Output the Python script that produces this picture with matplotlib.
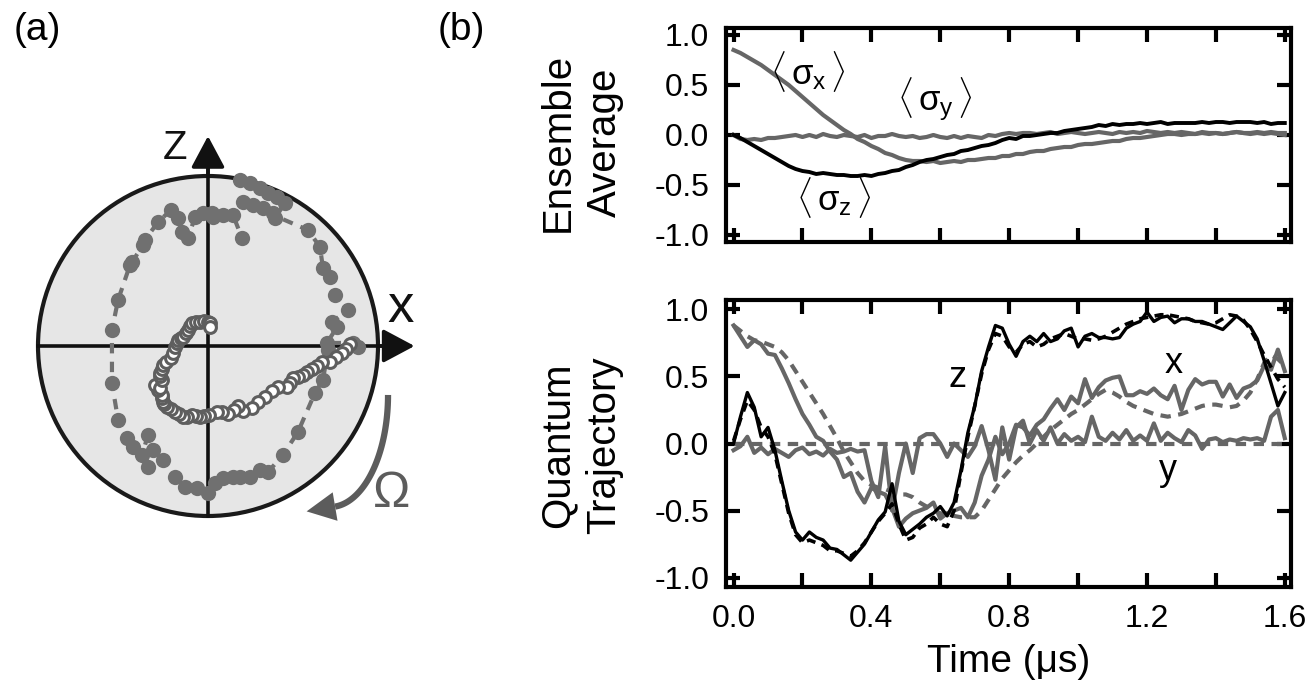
import numpy as np
import matplotlib
matplotlib.use("Agg")
import matplotlib.pyplot as plt
from matplotlib.patches import Circle, Polygon

plt.rcParams['font.family'] = ['Liberation Sans', 'DejaVu Sans']
plt.rcParams['mathtext.fontset'] = 'custom'
plt.rcParams['mathtext.rm'] = 'Liberation Sans'
plt.rcParams['mathtext.it'] = 'Liberation Sans:italic'

GRAY = '#666666'
DOT = '#707070'

# ---- (a) Bloch-sphere cut, x-z plane ----
# filled dots: ensemble evolution (x, z)
ens_x = [0.188, 0.247, 0.306, 0.353, 0.406, 0.453, 0.394, 0.382, 0.324, 0.265, 0.206,
         0.588, 0.659, 0.676, 0.718, 0.747, 0.824, 0.729, 0.759, 0.700, 0.853, 0.882,
         0.706, 0.676, 0.629, 0.529, 0.441, 0.353, 0.306, 0.247, 0.188, 0.147, 0.088,
         0.041, 0.000, -0.065, -0.135, -0.194, -0.265, -0.353, -0.324, -0.353, -0.388,
         -0.441, -0.476, -0.529, -0.565, -0.565, -0.529, -0.459, -0.447, -0.382, -0.371,
         -0.294, -0.218, -0.176, -0.153, -0.118, -0.076, -0.029, 0.024, 0.029, 0.088,
         0.147, 0.200]
ens_z = [0.976, 0.959, 0.929, 0.900, 0.876, 0.841, 0.753, 0.782, 0.812, 0.829, 0.847,
         0.682, 0.582, 0.459, 0.406, 0.300, 0.212, 0.141, 0.112, 0.018, 0.018, -0.006,
         -0.024, -0.200, -0.276, -0.506, -0.641, -0.741, -0.729, -0.771, -0.771, -0.771,
         -0.776, -0.806, -0.865, -0.835, -0.829, -0.771, -0.671, -0.712, -0.612, -0.524,
         -0.641, -0.594, -0.541, -0.435, -0.218, 0.094, 0.271, 0.476, 0.494, 0.594,
         0.624, 0.729, 0.800, 0.753, 0.671, 0.635, 0.759, 0.782, 0.782, 0.759, 0.771,
         0.771, 0.635]

# open dots: single quantum trajectory (x, z)
traj_x = [0.835, 0.812, 0.788, 0.753, 0.718, 0.671, 0.641, 0.612, 0.582, 0.559, 0.529,
          0.500, 0.482, 0.465, 0.412, 0.376, 0.335, 0.294, 0.259, 0.206, 0.176, 0.153,
          0.118, 0.082, 0.053, 0.006, -0.024, -0.047, -0.071, -0.094, -0.124, -0.147,
          -0.171, -0.194, -0.218, -0.241, -0.259, -0.265, -0.271, -0.271, -0.294, -0.312,
          -0.282, -0.271, -0.282, -0.282, -0.271, -0.265, -0.247, -0.218, -0.206, -0.194,
          -0.182, -0.176, -0.159, -0.147, -0.129, -0.118, -0.106, -0.094, -0.071, -0.047,
          -0.024, 0.000, 0.012, 0.012]
traj_z = [0.012, -0.018, -0.041, -0.065, -0.094, -0.094, -0.118, -0.135, -0.153, -0.171,
          -0.182, -0.188, -0.218, -0.241, -0.241, -0.265, -0.300, -0.329, -0.365, -0.382,
          -0.353, -0.376, -0.400, -0.388, -0.388, -0.406, -0.412, -0.418, -0.412, -0.406,
          -0.418, -0.418, -0.400, -0.388, -0.371, -0.359, -0.341, -0.329, -0.306, -0.288,
          -0.259, -0.229, -0.247, -0.200, -0.176, -0.159, -0.135, -0.112, -0.094, -0.071,
          -0.041, -0.006, 0.018, 0.035, 0.047, 0.053, 0.076, 0.094, 0.118, 0.135, 0.141,
          0.141, 0.147, 0.141, 0.135, 0.112]

# ---- (b) time traces ----
t = np.round(np.arange(81) * 0.02, 2)

avg_sx = [0.85, 0.82, 0.78, 0.74, 0.70, 0.65, 0.60, 0.55, 0.50, 0.44, 0.38, 0.32, 0.26, 0.20,
          0.15, 0.10, 0.05, 0.01, -0.04, -0.07, -0.11, -0.14, -0.18, -0.20, -0.23, -0.25,
          -0.26, -0.26, -0.27, -0.26, -0.28, -0.27, -0.26, -0.27, -0.25, -0.25, -0.24, -0.23,
          -0.23, -0.21, -0.21, -0.19, -0.19, -0.17, -0.16, -0.16, -0.14, -0.13, -0.12, -0.12,
          -0.10, -0.09, -0.09, -0.08, -0.07, -0.06, -0.06, -0.04, -0.03, -0.03, -0.02, -0.01,
          0.00, 0.01, 0.01, 0.00, 0.01, 0.01, 0.02, 0.01, 0.02, 0.01, 0.02, 0.03, 0.02, 0.02,
          0.03, 0.02, 0.03, 0.02, 0.02]
avg_sy = [0.00, -0.04, -0.05, -0.04, -0.05, -0.03, -0.03, -0.02, -0.01, 0.00, -0.02, 0.00,
          -0.02, 0.01, -0.01, -0.02, 0.00, -0.01, -0.02, 0.00, -0.03, -0.01, -0.01, 0.01,
          -0.01, -0.02, -0.01, -0.03, -0.02, 0.00, -0.02, -0.03, -0.01, -0.03, -0.01, -0.02,
          -0.03, 0.00, -0.01, 0.01, 0.02, 0.01, 0.02, 0.02, 0.01, 0.02, 0.03, 0.01, 0.02,
          0.03, 0.02, 0.01, 0.02, 0.03, 0.02, 0.01, 0.03, 0.02, 0.03, 0.02, 0.04, 0.03, 0.02,
          0.03, 0.02, 0.03, 0.02, 0.01, 0.03, 0.02, 0.02, 0.01, 0.02, 0.03, 0.02, 0.01, 0.02,
          0.01, 0.02, 0.01, 0.00]
avg_sz = [0.00, -0.03, -0.07, -0.11, -0.15, -0.19, -0.23, -0.27, -0.31, -0.34, -0.36, -0.37,
          -0.39, -0.38, -0.39, -0.40, -0.40, -0.41, -0.41, -0.40, -0.41, -0.39, -0.38, -0.36,
          -0.35, -0.32, -0.30, -0.27, -0.25, -0.24, -0.22, -0.20, -0.19, -0.16, -0.15, -0.13,
          -0.11, -0.10, -0.08, -0.05, -0.03, -0.04, -0.01, -0.01, 0.00, 0.01, 0.02, 0.02,
          0.04, 0.05, 0.06, 0.07, 0.08, 0.10, 0.09, 0.11, 0.10, 0.11, 0.11, 0.12, 0.11, 0.12,
          0.13, 0.11, 0.12, 0.12, 0.12, 0.12, 0.13, 0.12, 0.13, 0.13, 0.12, 0.13, 0.13, 0.13,
          0.12, 0.13, 0.11, 0.12, 0.12]

# measured trajectory (solid) and reconstructed estimate (dashed)
traj_zt = [0.00, 0.20, 0.38, 0.27, 0.05, 0.12, -0.05, -0.28, -0.50, -0.66, -0.72, -0.66,
           -0.70, -0.72, -0.78, -0.79, -0.83, -0.87, -0.81, -0.75, -0.66, -0.57, -0.51, -0.30,
           -0.58, -0.68, -0.64, -0.60, -0.55, -0.52, -0.47, -0.54, -0.44, -0.20, 0.08, 0.28,
           0.54, 0.72, 0.88, 0.86, 0.74, 0.65, 0.76, 0.80, 0.76, 0.82, 0.76, 0.78, 0.84, 0.86,
           0.72, 0.80, 0.82, 0.79, 0.79, 0.78, 0.79, 0.86, 0.89, 0.91, 0.98, 0.91, 0.94, 0.95,
           0.90, 0.93, 0.93, 0.91, 0.91, 0.89, 0.87, 0.85, 0.90, 0.95, 0.91, 0.87, 0.78, 0.62,
           0.45, 0.28, 0.38]
est_zt = [0.02, 0.18, 0.32, 0.25, 0.12, 0.05, -0.08, -0.30, -0.52, -0.68, -0.74, -0.72,
          -0.74, -0.76, -0.80, -0.80, -0.82, -0.84, -0.80, -0.74, -0.66, -0.58, -0.52, -0.45,
          -0.60, -0.72, -0.70, -0.63, -0.60, -0.55, -0.60, -0.62, -0.50, -0.22, 0.05, 0.28,
          0.52, 0.70, 0.82, 0.80, 0.72, 0.68, 0.74, 0.76, 0.72, 0.74, 0.78, 0.80, 0.82, 0.80,
          0.78, 0.78, 0.77, 0.78, 0.80, 0.83, 0.86, 0.89, 0.91, 0.93, 0.94, 0.95, 0.96, 0.96,
          0.95, 0.94, 0.93, 0.91, 0.90, 0.89, 0.90, 0.93, 0.96, 0.95, 0.92, 0.85, 0.76, 0.66,
          0.57, 0.48, 0.42]
traj_xt = [0.88, 0.80, 0.72, 0.77, 0.74, 0.67, 0.66, 0.56, 0.45, 0.33, 0.22, 0.14, 0.05,
           0.02, -0.06, -0.12, -0.25, -0.22, -0.36, -0.44, -0.33, -0.36, -0.38, -0.48, -0.62,
           -0.56, -0.52, -0.50, -0.48, -0.44, -0.56, -0.52, -0.50, -0.48, -0.55, -0.44, -0.24,
           -0.12, 0.05, -0.08, 0.00, 0.14, 0.12, 0.06, 0.14, 0.18, 0.26, 0.33, 0.25, 0.35,
           0.30, 0.48, 0.34, 0.42, 0.47, 0.49, 0.50, 0.36, 0.36, 0.39, 0.37, 0.41, 0.36, 0.33,
           0.43, 0.25, 0.40, 0.48, 0.44, 0.46, 0.46, 0.35, 0.44, 0.34, 0.41, 0.43, 0.47, 0.58,
           0.55, 0.70, 0.54]
est_xt = [0.88, 0.84, 0.80, 0.77, 0.76, 0.74, 0.72, 0.68, 0.62, 0.54, 0.46, 0.38, 0.30,
          0.22, 0.13, 0.04, -0.06, -0.14, -0.22, -0.28, -0.31, -0.33, -0.34, -0.36, -0.38,
          -0.38, -0.40, -0.44, -0.47, -0.50, -0.52, -0.53, -0.54, -0.55, -0.55, -0.55, -0.50,
          -0.42, -0.34, -0.26, -0.20, -0.14, -0.09, -0.05, 0.00, 0.05, 0.10, 0.14, 0.18, 0.22,
          0.25, 0.29, 0.33, 0.37, 0.40, 0.38, 0.35, 0.31, 0.28, 0.26, 0.24, 0.22, 0.21, 0.20,
          0.21, 0.22, 0.24, 0.26, 0.28, 0.29, 0.29, 0.28, 0.27, 0.28, 0.32, 0.38, 0.48, 0.60,
          0.66, 0.63, 0.58]
traj_yt = [-0.05, -0.02, 0.05, -0.07, -0.03, -0.08, -0.04, -0.07, -0.10, -0.05, -0.03, -0.08,
           -0.06, -0.09, -0.04, -0.07, -0.06, -0.04, -0.06, -0.05, -0.28, -0.40, -0.02, -0.50,
           -0.22, 0.00, -0.22, 0.04, 0.07, 0.07, 0.00, -0.10, 0.00, -0.05, -0.10, -0.02, 0.13,
           -0.05, -0.27, 0.12, -0.12, 0.12, 0.17, 0.00, 0.10, 0.02, 0.12, 0.00, 0.07, 0.02,
           0.05, 0.01, 0.20, 0.05, 0.02, 0.08, 0.03, 0.10, 0.02, 0.06, 0.02, 0.15, 0.02, 0.08,
           0.04, 0.01, 0.10, 0.06, -0.04, 0.03, 0.04, 0.01, 0.03, 0.02, 0.04, 0.03, 0.04, 0.02,
           0.20, 0.25, 0.04]
est_yt = np.zeros_like(t)

xticks = [0.0, 0.2, 0.4, 0.6, 0.8, 1.0, 1.2, 1.4, 1.6]
xticklabels = ['0.0', '', '0.4', '', '0.8', '', '1.2', '', '1.6']
yticks = [-1.0, -0.5, 0.0, 0.5, 1.0]

fig = plt.figure(figsize=(13.15, 6.88), dpi=100)

# panel (a): one data unit = 170 px, sphere centred at (208, 346) px
axa = fig.add_axes([0, 88 / 688, 440 / 1315, 500 / 688])
axa.set_xlim(-208 / 170, 232 / 170)
axa.set_ylim(-254 / 170, 246 / 170)
axa.axis('off')
axa.add_patch(Circle((0, 0), 1.0, facecolor='#e6e6e6', edgecolor='#1a1a1a', lw=3.0, zorder=1))
axa.plot([-1.0, 1.1], [0, 0], color='#111111', lw=2.6, zorder=2)
axa.plot([0, 0], [-1.0, 1.12], color='#111111', lw=2.6, zorder=2)
head = dict(arrowstyle='-|>,head_length=0.75,head_width=0.4', color='#111111',
            lw=2.6, mutation_scale=26, shrinkA=0, shrinkB=0)
axa.annotate('', xy=(1.215, 0), xytext=(1.0, 0), arrowprops=head, zorder=2)
axa.annotate('', xy=(0, 1.235), xytext=(0, 1.0), arrowprops=head, zorder=2)
axa.plot(ens_x, ens_z, color=DOT, lw=3.0, ls=(0, (2.5, 2)), zorder=3)
axa.plot(ens_x, ens_z, 'o', color=DOT, ms=11, mec='none', zorder=4)
axa.plot(traj_x, traj_z, 'o', mfc='white', mec='#5e5e5e', mew=2.2, ms=8.5, zorder=5)
axa.text(-0.194, 1.165, 'Z', fontsize=29, ha='center', va='center', color='#111111')
axa.text(1.13, 0.225, 'x', fontsize=38, ha='center', va='center', color='#111111')

# rotation arrow (clockwise): elliptical shaft plus a triangular head
cx, cy, ea, eb = 0.718, -0.288, 0.341, 0.659
phi = np.radians(np.linspace(0, -85, 50))
axa.plot(cx + ea * np.cos(phi), cy + eb * np.sin(phi), color='#5c5c5c', lw=4.5,
         solid_capstyle='butt', zorder=2)
pe = phi[-1]
base = np.array([cx + ea * np.cos(pe), cy + eb * np.sin(pe)])
fwd = np.array([ea * np.sin(pe), -eb * np.cos(pe)])
fwd /= np.hypot(*fwd)
nrm = np.array([-fwd[1], fwd[0]])
tip = base + 0.17 * fwd
axa.add_patch(Polygon([tip, base + 0.085 * nrm, base - 0.085 * nrm], closed=True,
                      facecolor='#5c5c5c', edgecolor='none', zorder=2))
axa.text(1.08, -0.87, '\u03a9', fontsize=36, ha='center', va='center', color='#5c5c5c')

fig.text(37 / 1315, 1 - 30 / 688, '(a)', fontsize=28, ha='center', va='center')
fig.text(461 / 1315, 1 - 30 / 688, '(b)', fontsize=28, ha='center', va='center')


def style(ax, show_x):
    ax.set_xlim(-0.022, 1.618)
    ax.set_ylim(-1.07, 1.07)
    ax.set_xticks(xticks)
    ax.set_xticklabels(xticklabels if show_x else [])
    ax.set_yticks(yticks)
    ax.set_yticklabels(['-1.0', '-0.5', '0.0', '0.5', '1.0'])
    ax.tick_params(direction='in', length=10, width=3.0, top=True, right=True,
                   labelsize=23, pad=12)
    for s in ax.spines.values():
        s.set_linewidth(3.0)


ax1 = fig.add_axes([726 / 1315, 1 - 242 / 688, 565 / 1315, 214 / 688])
ax1.plot(t, avg_sy, color=GRAY, lw=3.0)
ax1.plot(t, avg_sx, color=GRAY, lw=3.0)
ax1.plot(t, avg_sz, color='black', lw=2.8)
style(ax1, False)
ax1.text(0.215, 0.64, r'$\langle\,\mathrm{\sigma}_{\mathrm{x}}\,\rangle$', fontsize=25,
         ha='center', va='center')
ax1.text(0.585, 0.36, r'$\langle\,\mathrm{\sigma}_{\mathrm{y}}\,\rangle$', fontsize=25,
         ha='center', va='center')
ax1.text(0.29, -0.62, r'$\langle\,\mathrm{\sigma}_{\mathrm{z}}\,\rangle$', fontsize=25,
         ha='center', va='center')

ax2 = fig.add_axes([726 / 1315, 1 - 587 / 688, 565 / 1315, 287 / 688])
ax2.plot(t, est_yt, color=GRAY, lw=3.0, ls=(0, (2.5, 1.8)))
ax2.plot(t, traj_yt, color=GRAY, lw=3.0)
ax2.plot(t, est_xt, color=GRAY, lw=3.0, ls=(0, (2.5, 1.8)))
ax2.plot(t, traj_xt, color=GRAY, lw=3.0)
ax2.plot(t, est_zt, color='black', lw=2.6, ls=(0, (2.5, 1.8)))
ax2.plot(t, traj_zt, color='black', lw=2.4)
style(ax2, True)
ax2.text(0.651, 0.49, 'z', fontsize=26, ha='center', va='center')
ax2.text(1.276, 0.60, 'x', fontsize=26, ha='center', va='center')
ax2.text(1.262, -0.20, 'y', fontsize=26, ha='center', va='center')

fig.text(1009 / 1315, 1 - 662 / 688, 'Time (\u03bcs)', fontsize=28, ha='center', va='center')
fig.text(581 / 1315, 1 - 142 / 688, 'Ensemble\nAverage', fontsize=29, rotation=90,
         ha='center', va='center', linespacing=1.3)
fig.text(581 / 1315, 1 - 445 / 688, 'Quantum\nTrajectory', fontsize=29, rotation=90,
         ha='center', va='center', linespacing=1.3)

fig.savefig('out.png', dpi=100)
